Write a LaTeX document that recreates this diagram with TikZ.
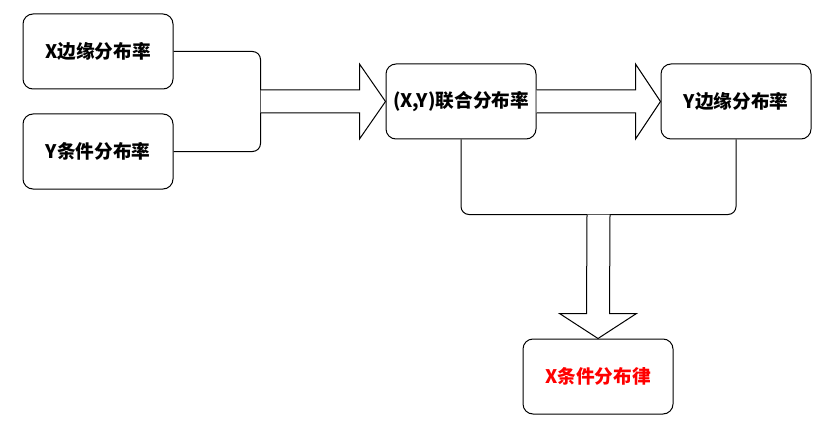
\documentclass[tikz,border=0pt]{standalone}
\usepackage{fontspec}
\setmainfont{Noto Sans CJK SC}
\usetikzlibrary{calc}

\tikzset{
  distbox/.style={draw, line width=0.75pt, rounded corners=7.5pt,
    minimum width=112.5pt, minimum height=56.25pt, inner sep=0pt,
    font=\bfseries\fontsize{14}{16}\selectfont},
  link/.style={draw, line width=0.75pt, rounded corners=6pt},
  fatarrow/.style={draw, line width=0.75pt, fill=white, line join=miter}
}

\begin{document}
\begin{tikzpicture}[x=0.75pt, y=-0.75pt]

      \useasboundingbox (0,0) rectangle (834,431);

      % The two given distributions on the left.
      \node[distbox] (xmarg) at (98,51.5) {X边缘分布率};
      \node[distbox] (ycond) at (98,151.5) {Y条件分布率};

      % The joint distribution and the other marginal.
      \node[distbox] (joint) at (461,101.5) {(X,Y)联合分布率};
      \node[distbox] (ymarg) at (736,101.5) {Y边缘分布率};

      % The result at the bottom.
      \node[distbox, text=red] (xcond) at (598,376.5) {X条件分布律};

      % Join the two inputs into one line.
      \draw[link] (xmarg.east) -- ++(87,0) |- (ycond.east);
      \coordinate (join) at ($(xmarg.east)!0.5!(ycond.east)+(87,0)$);

      % Wide arrow into the joint distribution.
      \draw[fatarrow] ($(join)+(0,-11.5)$)
      -- ($(joint.west)+(-26,-11.5)$) -- ($(joint.west)+(-26,-37.5)$)
      -- (joint.west)
      -- ($(joint.west)+(-26,37.5)$) -- ($(joint.west)+(-26,11.5)$)
      -- ($(join)+(0,11.5)$);

      % Wide arrow from the joint to the Y marginal.
      \draw[fatarrow] ($(joint.east)+(0,-11.5)$)
      -- ($(ymarg.west)+(-25,-11.5)$) -- ($(ymarg.west)+(-25,-37.5)$)
      -- (ymarg.west)
      -- ($(ymarg.west)+(-25,37.5)$) -- ($(ymarg.west)+(-25,11.5)$)
      -- ($(joint.east)+(0,11.5)$);

      % Line under the joint and the Y marginal.
      \coordinate (under) at ($(ymarg.south)+(0,75)$);
      \draw[link] (joint.south) |- (under) -- (ymarg.south);
      \coordinate (split) at ($(joint.south)!0.5!(ymarg.south)+(0,75)$);

      % Wide arrow down to the conditional distribution.
      \draw[fatarrow] ($(split)+(-11.5,0)$)
      -- ($(xcond.north)+(-11.5,-25)$) -- ($(xcond.north)+(-38.5,-25)$)
      -- (xcond.north)
      -- ($(xcond.north)+(38.5,-25)$) -- ($(xcond.north)+(11.5,-25)$)
      -- ($(split)+(11.5,0)$);
    \end{tikzpicture}
\end{document}
